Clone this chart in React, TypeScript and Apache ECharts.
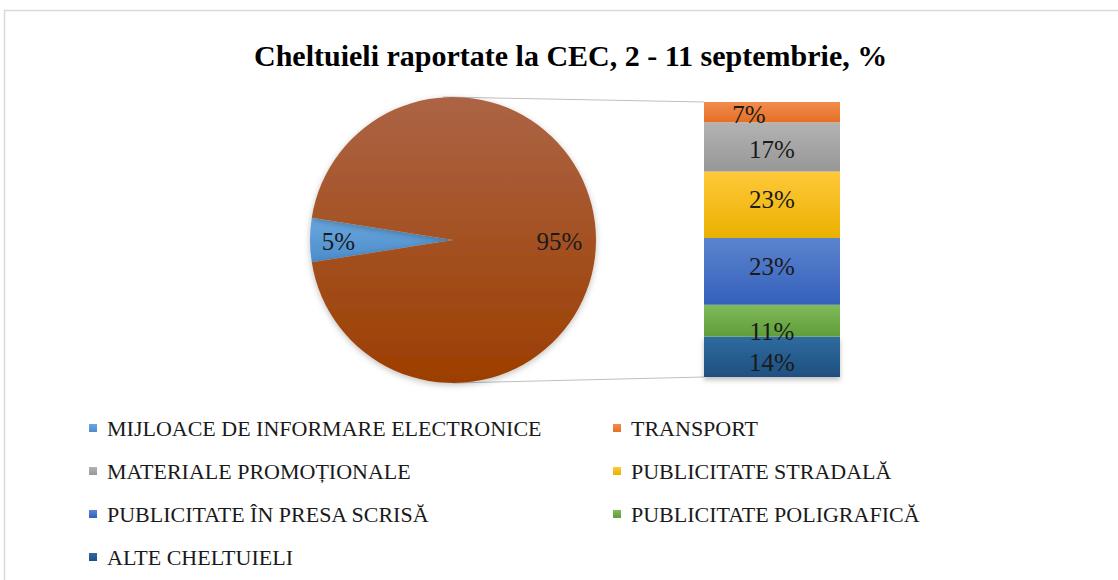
import React, { useEffect, useRef } from 'react';
import * as echarts from 'echarts';

const titleText = 'Cheltuieli raportate la CEC, 2 - 11 septembrie, %';
const pieNames = ['MIJLOACE DE INFORMARE ELECTRONICE', 'Alte categorii'];
const pieValues = [5, 95];
const barNames = [
  'ALTE CHELTUIELI',
  'PUBLICITATE POLIGRAFICĂ',
  'PUBLICITATE ÎN PRESA SCRISĂ',
  'PUBLICITATE STRADALĂ',
  'MATERIALE PROMOȚIONALE',
  'TRANSPORT',
];
const barValues = [14, 11, 23, 23, 17, 7];
const legendLeft = [
  'MIJLOACE DE INFORMARE ELECTRONICE',
  'MATERIALE PROMOȚIONALE',
  'PUBLICITATE ÎN PRESA SCRISĂ',
  'ALTE CHELTUIELI',
];
const legendRight = ['TRANSPORT', 'PUBLICITATE STRADALĂ', 'PUBLICITATE POLIGRAFICĂ'];

const pieColors: [string, string][] = [
  ['#6AA8DE', '#4C8CCB'],
  ['#AC6445', '#9C3E00'],
];
const barColors: [string, string][] = [
  ['#2F6B9F', '#1F4F80'],
  ['#80BA5A', '#5F9E38'],
  ['#5B84CF', '#3560BA'],
  ['#FFC93A', '#EAB000'],
  ['#B3B3B3', '#979797'],
  ['#F28C4C', '#E56F25'],
];
// label nudges (layout only)
const pieLabelOffsets = [[-40, 1], [32, 1]];
const barLabelOffsets = [[0, 6], [0, 11], [0, -5], [0, -5], [0, 3], [-23, 2]];

const FONT = '"Liberation Serif", "DejaVu Serif", serif';

const grad = (c: [string, string]) =>
  new echarts.graphic.LinearGradient(0, 0, 0, 1, [
    { offset: 0, color: c[0] },
    { offset: 1, color: c[1] },
  ]);

// layout
const PIE_CX = 453;
const PIE_CY = 240;
const PIE_R = 143;
const GRID_L = 704;
const GRID_T = 102;
const GRID_W = 136;
const GRID_H = 275;

export default function App() {
  const ref = useRef<HTMLDivElement>(null);
  useEffect(() => {
    if (!ref.current) return;
    const chart = echarts.init(ref.current, undefined, { renderer: 'svg' });
    const legendCommon = {
      orient: 'vertical' as const,
      itemWidth: 8,
      itemHeight: 8,
      itemGap: 21,
      icon: 'rect',
      textStyle: {
        fontFamily: FONT,
        fontSize: 22,
        color: '#1a1a1a',
        lineHeight: 21,
        padding: [0, 0, 0, 5],
      },
      padding: 0,
    };
    chart.setOption({
      animation: false,
      backgroundColor: '#fff',
      title: {
        text: titleText,
        left: 249,
        top: 35,
        textStyle: { fontFamily: FONT, fontSize: 30, fontWeight: 'bold', color: '#000' },
      },
      legend: [
        { ...legendCommon, data: legendLeft, left: 89, top: 417 },
        { ...legendCommon, data: legendRight, left: 613, top: 417 },
      ],
      grid: { left: GRID_L, top: GRID_T, width: GRID_W, height: GRID_H },
      xAxis: { type: 'category', data: [''], show: false },
      yAxis: { type: 'value', min: 0, max: 95, show: false, splitLine: { show: false } },
      graphic: [
        {
          type: 'rect',
          shape: { x: 4.5, y: 10.5, width: 1300, height: 800 },
          style: { fill: 'none', stroke: '#D9D9D9', lineWidth: 1.5 },
          silent: true,
        },
        {
          type: 'line',
          shape: { x1: PIE_CX - 10, y1: PIE_CY - PIE_R, x2: GRID_L, y2: GRID_T },
          style: { stroke: '#BFBFBF', lineWidth: 1 },
          silent: true,
        },
        {
          type: 'line',
          shape: { x1: PIE_CX, y1: PIE_CY + PIE_R, x2: GRID_L, y2: GRID_T + GRID_H },
          style: { stroke: '#BFBFBF', lineWidth: 1 },
          silent: true,
        },
      ],
      series: [
        {
          type: 'pie',
          center: [PIE_CX, PIE_CY],
          radius: PIE_R,
          startAngle: 189,
          clockwise: true,
          label: {
            show: true,
            position: 'inside',
            formatter: '{c}%',
            fontFamily: FONT,
            fontSize: 25,
            color: '#1a1a1a',
          },
          labelLine: { show: false },
          itemStyle: { shadowBlur: 6, shadowColor: 'rgba(0,0,0,0.25)', shadowOffsetY: 2 },
          emphasis: { disabled: true },
          data: pieNames.map((n, i) => ({
            name: n,
            value: pieValues[i],
            itemStyle: { color: grad(pieColors[i]) },
            label: { offset: pieLabelOffsets[i] },
          })),
        },
        ...barNames.map((n, i) => ({
          type: 'bar',
          name: n,
          stack: 'total',
          barWidth: '100%',
          data: [barValues[i]],
          itemStyle:
            i === 0
              ? { color: grad(barColors[i]), shadowBlur: 5, shadowColor: 'rgba(0,0,0,0.25)', shadowOffsetY: 3 }
              : { color: grad(barColors[i]) },
          label: {
            show: true,
            position: 'inside',
            formatter: '{c}%',
            fontFamily: FONT,
            fontSize: 25,
            color: '#1a1a1a',
            offset: barLabelOffsets[i],
          },
          emphasis: { disabled: true },
        })),
      ],
      color: [...barColors.map((c) => c[1])],
    });
    return () => chart.dispose();
  }, []);
  return (
    <div
      ref={ref}
      style={{ position: 'fixed', left: 0, top: 0, width: 1118, height: 580 }}
    />
  );
}
